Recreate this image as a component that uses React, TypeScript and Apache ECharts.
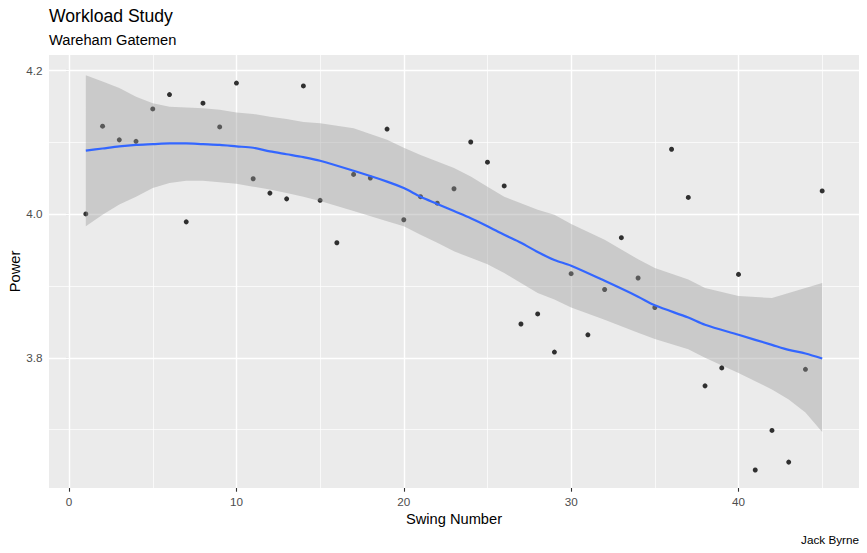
import React, { useEffect, useRef } from "react";
import * as echarts from "echarts";

const swing = [
  1, 2, 3, 4, 5, 6, 7, 8, 9, 10, 11, 12, 13, 14, 15, 16, 17, 18, 19, 20, 21, 22, 23,
  24, 25, 26, 27, 28, 29, 30, 31, 32, 33, 34, 35, 36, 37, 38, 39, 40, 41, 42, 43, 44, 45,
];
const power = [
  4.0, 4.122, 4.103, 4.101, 4.146, 4.166, 3.989, 4.154, 4.121, 4.182, 4.049, 4.029, 4.021,
  4.178, 4.019, 3.96, 4.055, 4.05, 4.118, 3.992, 4.024, 4.015, 4.035, 4.1, 4.072, 4.039,
  3.847, 3.861, 3.808, 3.917, 3.832, 3.895, 3.967, 3.911, 3.87, 4.09, 4.023, 3.761, 3.786,
  3.916, 3.644, 3.699, 3.655, 3.784, 4.032,
];

const smoothX = [
  1, 2, 3, 4, 5, 6, 7, 8, 9, 10, 11, 12, 13, 14, 15, 17, 19, 20, 21, 22, 23, 24, 25, 26, 27,
  28, 29, 30, 32, 34, 35, 37, 38, 40, 42, 43, 44, 45,
];
const smoothFit = [
  4.088, 4.091, 4.094, 4.096, 4.097, 4.098, 4.098, 4.097, 4.096, 4.094, 4.092, 4.087, 4.083,
  4.079, 4.074, 4.06, 4.045, 4.036, 4.024, 4.014, 4.004, 3.994, 3.983, 3.971, 3.96, 3.947,
  3.936, 3.928, 3.907, 3.885, 3.873, 3.856, 3.846, 3.832, 3.818, 3.811, 3.806, 3.799,
];
const smoothLower = [
  3.983, 3.999, 4.013, 4.024, 4.036, 4.043, 4.046, 4.046, 4.044, 4.042, 4.038, 4.034, 4.029,
  4.024, 4.018, 4.004, 3.99, 3.983, 3.971, 3.96, 3.948, 3.939, 3.93, 3.918, 3.904, 3.89,
  3.881, 3.87, 3.853, 3.835, 3.826, 3.812, 3.8, 3.779, 3.756, 3.742, 3.724, 3.697,
];
const smoothUpper = [
  4.193, 4.184, 4.175, 4.163, 4.154, 4.149, 4.148, 4.147, 4.145, 4.141, 4.139, 4.135, 4.132,
  4.128, 4.126, 4.119, 4.103, 4.092, 4.082, 4.073, 4.064, 4.052, 4.038, 4.024, 4.015, 4.006,
  3.999, 3.986, 3.964, 3.937, 3.925, 3.909, 3.897, 3.886, 3.883, 3.89, 3.897, 3.904,
];

const xMajor = [0, 10, 20, 30, 40];
const xMinor = [5, 15, 25, 35, 45];
const yMajor = [3.8, 4.0, 4.2];
const yMinor = [3.7, 3.9, 4.1];

const FONT = '"Liberation Sans", Arial, Helvetica, sans-serif';

export default function App() {
  const ref = useRef<HTMLDivElement>(null);

  useEffect(() => {
    if (!ref.current) return;
    const chart = echarts.init(ref.current, null, { renderer: "svg" });

    const bandData = smoothX.map((x, i) => [x, smoothLower[i], smoothUpper[i]]);
    const major = { color: "#ffffff", width: 1.4, type: "solid", opacity: 1 };
    const minor = { color: "#ffffff", width: 0.7, type: "solid", opacity: 1 };
    const gridLines = [
      ...xMinor.map((v) => ({ xAxis: v, lineStyle: minor })),
      ...yMinor.map((v) => ({ yAxis: v, lineStyle: minor })),
      ...xMajor.map((v) => ({ xAxis: v, lineStyle: major })),
      ...yMajor.map((v) => ({ yAxis: v, lineStyle: major })),
    ];

    const axisText = { color: "#4d4d4d", fontSize: 11.7, fontFamily: FONT };
    const tick = { show: true, length: 3.7, lineStyle: { color: "#333333", width: 1.1 } };

    chart.setOption({
      animation: false,
      grid: {
        left: 49,
        right: 8,
        top: 55,
        bottom: 65,
        show: true,
        backgroundColor: "#EBEBEB",
        borderWidth: 0,
        containLabel: false,
      },
      xAxis: {
        type: "value",
        min: -1.2,
        max: 47.2,
        axisLine: { show: false },
        axisTick: { ...tick, customValues: xMajor },
        axisLabel: { ...axisText, margin: 7, customValues: xMajor },
        splitLine: { show: false },
      },
      yAxis: {
        type: "value",
        min: 3.619,
        max: 4.221,
        axisLine: { show: false },
        axisTick: { ...tick, customValues: yMajor },
        axisLabel: {
          ...axisText,
          margin: 6.5,
          customValues: yMajor,
          formatter: (v: number) => v.toFixed(1),
        },
        splitLine: { show: false },
      },
      graphic: [
        {
          type: "text",
          x: 49,
          y: 16,
          style: {
            text: "Workload Study",
            fontSize: 17.6,
            fontFamily: FONT,
            fill: "#000000",
            align: "left",
            verticalAlign: "middle",
            textAlign: "left",
            textVerticalAlign: "middle",
          },
        },
        {
          type: "text",
          x: 49,
          y: 39.6,
          style: {
            text: "Wareham Gatemen",
            fontSize: 14.67,
            fontFamily: FONT,
            fill: "#000000",
            align: "left",
            verticalAlign: "middle",
            textAlign: "left",
            textVerticalAlign: "middle",
          },
        },
        {
          type: "text",
          x: 454,
          y: 518.6,
          style: {
            text: "Swing Number",
            fontSize: 14.67,
            fontFamily: FONT,
            fill: "#000000",
            align: "center",
            verticalAlign: "middle",
            textAlign: "center",
            textVerticalAlign: "middle",
          },
        },
        {
          type: "text",
          x: 15.2,
          y: 271.5,
          rotation: Math.PI / 2,
          style: {
            text: "Power",
            fontSize: 14.67,
            fontFamily: FONT,
            fill: "#000000",
            align: "center",
            verticalAlign: "middle",
            textAlign: "center",
            textVerticalAlign: "middle",
          },
        },
        {
          type: "text",
          x: 859,
          y: 539.4,
          style: {
            text: "Jack Byrne",
            fontSize: 11.73,
            fontFamily: FONT,
            fill: "#000000",
            align: "right",
            verticalAlign: "middle",
            textAlign: "right",
            textVerticalAlign: "middle",
          },
        },
      ],
      series: [
        {
          name: "grid",
          type: "line",
          data: [],
          z: 1,
          silent: true,
          markLine: {
            z: 1,
            silent: true,
            symbol: ["none", "none"],
            label: { show: false },
            animation: false,
            emphasis: { disabled: true },
            data: gridLines,
          },
        },
        {
          name: "points",
          type: "scatter",
          z: 2,
          symbol: "circle",
          symbolSize: 5,
          itemStyle: { color: "#000000" },
          data: swing.map((s, i) => [s, power[i]]),
        },
        {
          name: "band",
          type: "custom",
          z: 3,
          silent: true,
          encode: { x: 0, y: [1, 2] },
          data: bandData,
          renderItem: (params: any, api: any) => {
            if (params.dataIndex !== 0) return null;
            const up = bandData.map((d) => api.coord([d[0], d[2]]));
            const lo = bandData.map((d) => api.coord([d[0], d[1]])).reverse();
            return {
              type: "polygon",
              shape: { points: up.concat(lo) },
              style: { fill: "rgba(153,153,153,0.4)" },
            };
          },
        },
        {
          name: "smooth",
          type: "line",
          z: 4,
          smooth: 0.3,
          showSymbol: false,
          silent: true,
          lineStyle: { color: "#3366FF", width: 2.2 },
          data: smoothX.map((x, i) => [x, smoothFit[i]]),
        },
      ],
    });

    return () => chart.dispose();
  }, []);

  return (
    <div
      ref={ref}
      style={{
        position: "fixed",
        left: 0,
        top: 0,
        width: 867,
        height: 553,
        background: "#ffffff",
      }}
    />
  );
}
